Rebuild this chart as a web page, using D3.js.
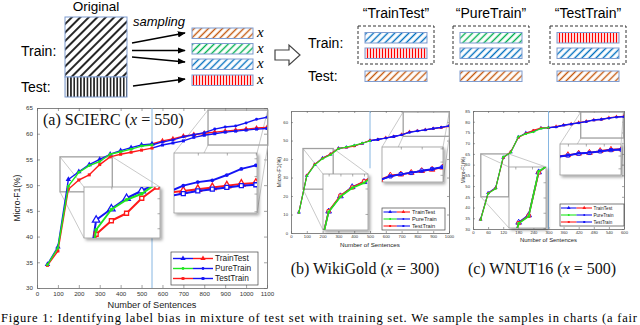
<!DOCTYPE html>
<html>
<head>
<meta charset="utf-8">
<script src="https://cdn.jsdelivr.net/npm/d3@7"></script>
<style>
  body { margin: 0; background: #fff; }
  svg { display: block; }
  text { font-family: "Liberation Sans", Arial, sans-serif; }
  .serif { font-family: "Liberation Serif", "Times New Roman", serif; }
</style>
</head>
<body>
<svg id="fig" width="640" height="325"></svg>
<script>
/* global d3 */

// (a) SCIERC, x = 550
var sciercSizes = [50, 100, 150, 200, 250, 300, 350, 400, 450, 500, 550, 600, 650, 700, 750, 800, 850, 900, 950, 1000, 1050, 1100]
var sciercTrainTest = [34.6, 38.0, 51.1, 52.6, 54.0, 55.0, 56.0, 56.7, 57.3, 57.8, 58.0, 58.6, 59.0, 59.5, 59.8, 60.1, 60.3, 60.5, 60.7, 60.9, 61.1, 61.2]
var sciercPureTrain = [34.5, 37.8, 49.8, 52.5, 53.8, 54.6, 56.0, 56.5, 57.0, 57.6, 57.8, 58.4, 58.8, 59.4, 59.8, 60.2, 60.9, 61.3, 61.5, 62.1, 62.8, 63.2]
var sciercTestTrain = [34.4, 37.2, 49.2, 51.0, 52.0, 54.0, 55.5, 56.0, 56.4, 56.8, 57.2, 57.8, 58.2, 58.6, 59.3, 59.7, 60.0, 60.3, 60.5, 60.7, 60.9, 61.0]

// (b) WikiGold, x = 300
var wikiSizes = [50, 100, 150, 200, 250, 300, 350, 400, 450, 500, 550, 600, 650, 700, 750, 800, 850, 900, 950, 1000]
var wikiTrainTest = [11.2, 31.0, 37.0, 40.6, 42.6, 45.8, 46.4, 47.2, 48.4, 50.0, 50.6, 51.5, 52.2, 53.2, 54.8, 55.2, 55.8, 56.5, 57.0, 57.8]
var wikiPureTrain = [11.0, 30.8, 36.8, 40.2, 42.2, 45.6, 46.5, 47.4, 48.6, 49.8, 50.8, 51.3, 52.4, 53.0, 54.5, 55.1, 55.9, 56.4, 57.1, 57.9]
var wikiTestTrain = [11.1, 31.1, 37.2, 40.4, 42.8, 45.7, 46.3, 47.0, 48.5, 50.1, 50.4, 51.4, 52.0, 53.1, 54.4, 55.3, 55.7, 56.6, 57.2, 58.0]

// (c) WNUT16, x = 500
var wnutSizes = [30, 60, 90, 120, 150, 180, 210, 240, 270, 300, 330, 360, 390, 420, 450, 480, 510, 540, 570, 600]
var wnutTrainTest = [34.5, 46.8, 49.2, 63.3, 65.8, 72.8, 74.8, 75.6, 77.0, 77.2, 77.7, 78.4, 78.9, 79.6, 80.2, 80.8, 81.1, 81.8, 82.3, 82.5]
var wnutPureTrain = [34.2, 46.5, 48.8, 63.6, 65.6, 73.0, 74.3, 75.2, 76.8, 77.3, 77.6, 78.5, 79.0, 79.5, 80.1, 80.9, 81.2, 81.7, 82.2, 82.4]
var wnutTestTrain = [34.3, 46.6, 49.0, 63.2, 66.0, 72.6, 74.5, 76.0, 77.1, 77.2, 77.5, 78.3, 78.8, 79.4, 80.0, 80.7, 81.0, 81.6, 82.1, 82.3]

var sciercXTicks = [0, 100, 200, 300, 400, 500, 600, 700, 800, 900, 1000, 1100]
var sciercYTicks = [30, 35, 40, 45, 50, 55, 60, 65]
var wikiXTicks = [0, 100, 200, 300, 400, 500, 600, 700, 800, 900, 1000]
var wikiYTicks = [0, 10, 20, 30, 40, 50, 60]
var wnutXTicks = [0, 60, 120, 180, 240, 300, 360, 420, 480, 540, 600]
var wnutYTicks = [30, 35, 40, 45, 50, 55, 60, 65, 70, 75, 80, 85]

var settingNames = ['TrainTest', 'PureTrain', 'TestTrain']
// draw order: TrainTest under, PureTrain on top
var drawOrder = ['TrainTest', 'TestTrain', 'PureTrain']

var BLUE = '#1414f5'
var GREEN = '#1ee61e'
var RED = '#ff1a1a'
var BORDER = '#7f9cd0'

// line colour before / after the split point, and the marker of each setting
var styles = {
  TrainTest: {pre: BLUE, post: RED, marker: 'triangle'},
  PureTrain: {pre: GREEN, post: BLUE, marker: 'dot'},
  TestTrain: {pre: RED, post: BLUE, marker: 'square'}
}

var svg = d3.select('#fig')
var defs = svg.append('defs')
var clipCount = 0

var shadow = defs.append('filter').attr('id', 'shadow')
  .attr('x', '-20%').attr('y', '-20%').attr('width', '150%').attr('height', '150%')
shadow.append('feDropShadow').attr('dx', 2).attr('dy', 2).attr('stdDeviation', 1.6)
  .attr('flood-color', '#000').attr('flood-opacity', 0.35)

function hatch (id, color, gap, width, angle) {
  var p = defs.append('pattern').attr('id', id).attr('patternUnits', 'userSpaceOnUse')
    .attr('width', gap).attr('height', gap).attr('patternTransform', 'rotate(' + angle + ')')
  p.append('rect').attr('width', gap).attr('height', gap).attr('fill', '#fff')
  p.append('line').attr('x1', gap / 2).attr('x2', gap / 2).attr('y1', 0).attr('y2', gap)
    .attr('stroke', color).attr('stroke-width', width)
}
hatch('h-black', '#000', 6, 1.7, 45)
hatch('v-black', '#000', 3.3, 1.4, 0)
hatch('h-orange', '#c55a11', 5, 1.4, 45)
hatch('h-green', '#00b050', 5, 1.4, 45)
hatch('h-blue', '#0070c0', 5, 1.4, 45)
hatch('v-red', '#ff0000', 3, 1.3, 0)

defs.append('marker').attr('id', 'arrow').attr('viewBox', '0 0 10 10')
  .attr('refX', 9).attr('refY', 5).attr('markerWidth', 5).attr('markerHeight', 5)
  .attr('orient', 'auto')
  .append('path').attr('d', 'M0,1 L10,5 L0,9 z').attr('fill', '#000')

drawDiagram()

drawChart({
  box: {left: 37, top: 108, width: 230, height: 180},
  sizes: sciercSizes,
  values: {TrainTest: sciercTrainTest, PureTrain: sciercPureTrain, TestTrain: sciercTestTrain},
  xDomain: [0, 1100], yDomain: [30, 65], xTicks: sciercXTicks, yTicks: sciercYTicks,
  split: 550,
  tick: 3, tickFont: 6.2, xPad: 4, yPad: 4,
  labelFont: 9.2, ylabelFont: 8.5, xLabelOff: 20, yLabelOff: -17,
  mark: {lw: 1.4, tri: 13, sq: 9, dot: 7, mw: 1, filled: true},
  insetMark: {lw: 2, tri: 24, sq: 16, dot: 11, mw: 1.3},
  insets: [
    {xs: [110, 360], ys: [48.7, 55.5], box: {x: 84, y: 187, w: 76, h: 51}},
    {xs: [818, 1104], ys: [57.8, 64.6], box: {x: 174, y: 153, w: 83, h: 60}}
  ],
  legend: {x: 171, y: 252, w: 87, h: 33, rows: [6.5, 16.5, 26.5], l0: 2, l1: 42, tx: 44, font: 8.3,
    mark: {lw: 1.4, tri: 12, sq: 8, dot: 6, mw: 1, filled: true}}
})

drawChart({
  box: {left: 291, top: 111, width: 158, height: 122},
  sizes: wikiSizes,
  values: {TrainTest: wikiTrainTest, PureTrain: wikiPureTrain, TestTrain: wikiTestTrain},
  xDomain: [0, 1000], yDomain: [0, 66], xTicks: wikiXTicks, yTicks: wikiYTicks,
  split: 500, splitFrom: 35,
  tick: 2, tickFont: 4.2, xPad: 2.5, yPad: 3,
  labelFont: 6.2, ylabelFont: 5.5, xLabelOff: 14, yLabelOff: -10,
  mark: {lw: 1.1, tri: 7, sq: 5, dot: 4, mw: 0.8, filled: true},
  insetMark: {lw: 1.6, tri: 14, sq: 10, dot: 6, mw: 1},
  insets: [
    {xs: [76, 267], ys: [23.7, 45.7], box: {x: 323, y: 174, w: 45, h: 56}},
    {xs: [710, 1002], ys: [52.3, 65.5], box: {x: 382, y: 147, w: 61, h: 35}}
  ],
  legend: {x: 382, y: 208, w: 63, h: 22, rows: [4, 11, 18], l0: 1.5, l1: 28, tx: 30, font: 5.7,
    mark: {lw: 1.1, tri: 6, sq: 4, dot: 3, mw: 0.8, filled: true}}
})

drawChart({
  box: {left: 473, top: 111, width: 151, height: 118},
  sizes: wnutSizes,
  values: {TrainTest: wnutTrainTest, PureTrain: wnutPureTrain, TestTrain: wnutTestTrain},
  xDomain: [0, 600], yDomain: [30, 85], xTicks: wnutXTicks, yTicks: wnutYTicks,
  split: 300,
  tick: 2, tickFont: 4.2, xPad: 2.5, yPad: 3,
  labelFont: 5.9, ylabelFont: 4.8, xLabelOff: 13, yLabelOff: -8,
  mark: {lw: 1.1, tri: 7, sq: 5, dot: 4, mw: 0.8, filled: true},
  insetMark: {lw: 1.6, tri: 14, sq: 10, dot: 6, mw: 1},
  insets: [
    {xs: [31, 142], ys: [45, 65], box: {x: 509, y: 167, w: 37, h: 61}},
    {xs: [428, 598], ys: [72.4, 84.5], box: {x: 560, y: 144, w: 61, h: 31}}
  ],
  legend: {x: 560, y: 204, w: 64, h: 22, rows: [4, 11, 18], l0: 1, l1: 32, tx: 33.5, font: 4.6,
    mark: {lw: 1.1, tri: 6, sq: 4, dot: 3, mw: 0.8, filled: true}}
})

// sub captions
caption(43, 125, 'start', '(a) SCIERC (', '550)')
caption(365, 274, 'middle', '(b) WikiGold (', '300)')
caption(542, 274, 'middle', '(c) WNUT16 (', '500)')

// figure caption along the lower edge
svg.append('text').attr('class', 'serif').attr('x', 1).attr('y', 322).attr('font-size', 12.5)
  .attr('textLength', 636).attr('lengthAdjust', 'spacing')
  .text('Figure 1: Identifying label bias in mixture of test set with training set. We sample the samples in charts (a fair')

function caption (x, y, anchor, before, after) {
  var t = svg.append('text').attr('class', 'serif').attr('x', x).attr('y', y)
    .attr('text-anchor', anchor).attr('font-size', 16).attr('fill', '#111')
  t.append('tspan').text(before)
  t.append('tspan').attr('font-style', 'italic').text('x')
  t.append('tspan').text(' = ' + after)
}

function drawDiagram () {
  var g = svg.append('g')
  g.append('text').attr('x', 96).attr('y', 11).attr('text-anchor', 'middle').attr('font-size', 13.5).text('Original')
  g.append('rect').attr('x', 65).attr('y', 17).attr('width', 62).attr('height', 60)
    .attr('fill', 'url(#h-black)').attr('stroke', BORDER).attr('stroke-width', 1)
  g.append('rect').attr('x', 65).attr('y', 77).attr('width', 62).attr('height', 20)
    .attr('fill', 'url(#v-black)').attr('stroke', BORDER).attr('stroke-width', 1)
  g.append('text').attr('x', 21).attr('y', 56).attr('font-size', 14).text('Train:')
  g.append('text').attr('x', 21).attr('y', 92).attr('font-size', 14).text('Test:')
  g.append('text').attr('x', 133).attr('y', 26).attr('font-size', 13).attr('font-style', 'italic').text('sampling')

  var arrows = [[132, 43, 185, 33], [132, 50.5, 185, 50.5], [132, 57, 185, 62], [133, 86, 185, 79]]
  g.selectAll('.samp').data(arrows).enter().append('line')
    .attr('x1', d => d[0]).attr('y1', d => d[1]).attr('x2', d => d[2]).attr('y2', d => d[3])
    .attr('stroke', '#000').attr('stroke-width', 1.6).attr('marker-end', 'url(#arrow)')

  var samples = ['h-orange', 'h-green', 'h-blue', 'v-red']
  var sampleTops = [28, 43.5, 59, 75]
  samples.forEach(function (p, i) {
    g.append('rect').attr('x', 192).attr('y', sampleTops[i]).attr('width', 61).attr('height', 10.5)
      .attr('fill', 'url(#' + p + ')').attr('stroke', BORDER).attr('stroke-width', 1)
    g.append('text').attr('class', 'serif').attr('x', 257).attr('y', sampleTops[i] + 9)
      .attr('font-size', 15).attr('font-style', 'italic').text('x')
  })

  g.append('path').attr('d', 'M275,50 L289,50 L289,45 L300,55 L289,65 L289,60 L275,60 Z')
    .attr('fill', '#fff').attr('stroke', '#444').attr('stroke-width', 1.2)

  g.append('text').attr('x', 308).attr('y', 48).attr('font-size', 14).text('Train:')
  g.append('text').attr('x', 308).attr('y', 81).attr('font-size', 14).text('Test:')

  var groupLeft = [365, 460, 557]
  var trainParts = [['h-blue', 'v-red'], ['h-green', 'h-blue'], ['v-red', 'h-blue']]
  settingNames.forEach(function (name, i) {
    var x0 = groupLeft[i]
    g.append('text').attr('x', x0 + 31).attr('y', 18).attr('text-anchor', 'middle')
      .attr('font-size', 14).text('\u201C' + name + '\u201D')
    g.append('rect').attr('x', x0 - 7).attr('y', 26).attr('width', 76).attr('height', 38)
      .attr('fill', 'none').attr('stroke', '#333').attr('stroke-width', 1).attr('stroke-dasharray', '3,2')
    var tops = [32.5, 48, 71]
    trainParts[i].concat(['h-orange']).forEach(function (p, j) {
      g.append('rect').attr('x', x0).attr('y', tops[j]).attr('width', 62).attr('height', 10.5)
        .attr('fill', 'url(#' + p + ')').attr('stroke', BORDER).attr('stroke-width', 1)
    })
  })
}

function symbolOf (st, k) {
  if (st.marker === 'triangle') return d3.symbol().type(d3.symbolTriangle).size(k.tri)()
  if (st.marker === 'square') return d3.symbol().type(d3.symbolSquare).size(k.sq)()
  return d3.symbol().type(d3.symbolCircle).size(k.dot)()
}

function addMarker (g, st, color, k, px, py) {
  var m = g.append('path').attr('d', symbolOf(st, k)).attr('transform', 'translate(' + px + ',' + py + ')')
  if (st.marker === 'dot' || k.filled) m.attr('fill', color)
  else m.attr('fill', '#fff').attr('stroke', color).attr('stroke-width', k.mw)
}

function drawSeries (g, x, y, sizes, values, st, split, k) {
  var pts = sizes.map(function (s, i) { return {s: s, v: values[i]} })
  var cut = d3.bisectRight(sizes, split)
  var parts = [{d: pts.slice(0, cut), c: st.pre, skip: 0}, {d: pts.slice(cut - 1), c: st.post, skip: 1}]
  var line = d3.line().x(d => x(d.s)).y(d => y(d.v))
  parts.forEach(function (p) {
    g.append('path').datum(p.d).attr('d', line).attr('fill', 'none')
      .attr('stroke', p.c).attr('stroke-width', k.lw).attr('stroke-linejoin', 'round')
  })
  parts.forEach(function (p) {
    p.d.slice(p.skip).forEach(function (d) { addMarker(g, st, p.c, k, x(d.s), y(d.v)) })
  })
}

function clipRect (w, h) {
  var id = 'clip' + (clipCount++)
  defs.append('clipPath').attr('id', id).append('rect').attr('width', w).attr('height', h)
  return 'url(#' + id + ')'
}

function drawChart (cfg) {
  var b = cfg.box
  var x = d3.scaleLinear().domain(cfg.xDomain).range([0, b.width])
  var y = d3.scaleLinear().domain(cfg.yDomain).range([b.height, 0])
  var g = svg.append('g').attr('transform', 'translate(' + b.left + ',' + b.top + ')')

  g.append('rect').attr('width', b.width).attr('height', b.height).attr('fill', '#fff')

  // MATLAB-like box: inward ticks on all four sides
  var fmt = d3.format('d')
  var axes = [
    {a: d3.axisBottom(x).tickValues(cfg.xTicks).tickFormat(fmt).tickPadding(cfg.xPad), t: 'translate(0,' + b.height + ')'},
    {a: d3.axisTop(x).tickValues(cfg.xTicks).tickFormat(''), t: null},
    {a: d3.axisLeft(y).tickValues(cfg.yTicks).tickFormat(fmt).tickPadding(cfg.yPad), t: null},
    {a: d3.axisRight(y).tickValues(cfg.yTicks).tickFormat(''), t: 'translate(' + b.width + ',0)'}
  ]
  axes.forEach(function (o) {
    var ag = g.append('g').attr('transform', o.t).call(o.a.tickSizeInner(-cfg.tick).tickSizeOuter(0))
    ag.attr('font-family', '"Liberation Sans", Arial, sans-serif').attr('font-size', cfg.tickFont)
    ag.select('.domain').attr('stroke', '#666').attr('stroke-width', 0.8)
    ag.selectAll('.tick line').attr('stroke', '#666').attr('stroke-width', 0.6)
    ag.selectAll('text').attr('fill', '#333')
  })

  g.append('text').attr('x', b.width / 2).attr('y', b.height + cfg.xLabelOff).attr('text-anchor', 'middle')
    .attr('font-size', cfg.labelFont).attr('fill', '#222').text('Number of Sentences')
  g.append('text').attr('transform', 'translate(' + cfg.yLabelOff + ',' + (b.height / 2) + ') rotate(-90)')
    .attr('text-anchor', 'middle').attr('font-size', cfg.ylabelFont).attr('fill', '#222').text('Micro-F1(%)')

  // split line at x
  var yFrom = cfg.splitFrom !== undefined ? cfg.splitFrom : cfg.yDomain[0]
  g.append('line').attr('x1', x(cfg.split)).attr('x2', x(cfg.split)).attr('y1', y(yFrom)).attr('y2', 0)
    .attr('stroke', '#86b6e2').attr('stroke-width', 1)

  // source boxes and their connectors
  cfg.insets.forEach(function (ins) {
    var sx0 = x(ins.xs[0]), sx1 = x(ins.xs[1]), sy0 = y(ins.ys[1]), sy1 = y(ins.ys[0])
    var bx = ins.box.x - b.left, by = ins.box.y - b.top, w = ins.box.w, h = ins.box.h
    var links = [[sx0, sy0, bx, by], [sx1, sy0, bx + w, by], [sx0, sy1, bx, by + h], [sx1, sy1, bx + w, by + h]]
    links.forEach(function (l) {
      g.append('line').attr('x1', l[0]).attr('y1', l[1]).attr('x2', l[2]).attr('y2', l[3])
        .attr('stroke', '#bbb').attr('stroke-width', 0.8)
    })
    g.append('rect').attr('x', sx0).attr('y', sy0).attr('width', sx1 - sx0).attr('height', sy1 - sy0)
      .attr('fill', 'none').attr('stroke', '#a0a0a0').attr('stroke-width', 1.3)
  })

  var plot = g.append('g').attr('clip-path', clipRect(b.width, b.height))
  drawOrder.forEach(function (name) {
    drawSeries(plot, x, y, cfg.sizes, cfg.values[name], styles[name], cfg.split, cfg.mark)
  })

  // magnified insets
  cfg.insets.forEach(function (ins) {
    var w = ins.box.w, h = ins.box.h
    var ig = g.append('g').attr('transform', 'translate(' + (ins.box.x - b.left) + ',' + (ins.box.y - b.top) + ')')
    ig.append('rect').attr('width', w).attr('height', h).attr('fill', '#fff')
      .attr('stroke', '#9a9a9a').attr('stroke-width', 0.8).attr('filter', 'url(#shadow)')
    var ix = d3.scaleLinear().domain(ins.xs).range([0, w])
    var iy = d3.scaleLinear().domain(ins.ys).range([h, 0])
    var tg = ig.append('g').call(d3.axisBottom(ix).ticks(3).tickSize(2.5).tickFormat(''))
    tg.select('.domain').remove()
    tg.selectAll('line').attr('stroke', '#777').attr('stroke-width', 0.6)
    var rg = ig.append('g').attr('transform', 'translate(' + w + ',0)')
      .call(d3.axisLeft(iy).ticks(3).tickSize(2.5).tickFormat(''))
    rg.select('.domain').remove()
    rg.selectAll('line').attr('stroke', '#777').attr('stroke-width', 0.6)
    var ip = ig.append('g').attr('clip-path', clipRect(w, h))
    drawOrder.forEach(function (name) {
      drawSeries(ip, ix, iy, cfg.sizes, cfg.values[name], styles[name], cfg.split, cfg.insetMark)
    })
  })

  // legend: each entry shows the colour before and after the split
  var lg = cfg.legend
  var lgG = svg.append('g').attr('transform', 'translate(' + lg.x + ',' + lg.y + ')')
  lgG.append('rect').attr('width', lg.w).attr('height', lg.h).attr('fill', '#fff')
    .attr('stroke', '#444').attr('stroke-width', 0.7)
  settingNames.forEach(function (name, i) {
    var st = styles[name]
    var ry = lg.rows[i]
    var mid = (lg.l0 + lg.l1) / 2
    ;[[lg.l0, mid, st.pre], [mid, lg.l1, st.post]].forEach(function (seg) {
      lgG.append('line').attr('x1', seg[0]).attr('x2', seg[1]).attr('y1', ry).attr('y2', ry)
        .attr('stroke', seg[2]).attr('stroke-width', lg.mark.lw)
      addMarker(lgG, st, seg[2], lg.mark, (seg[0] + seg[1]) / 2, ry)
    })
    lgG.append('text').attr('x', lg.tx).attr('y', ry).attr('dy', '0.35em')
      .attr('font-size', lg.font).attr('fill', '#222').text(name)
  })
}
</script>
</body>
</html>
